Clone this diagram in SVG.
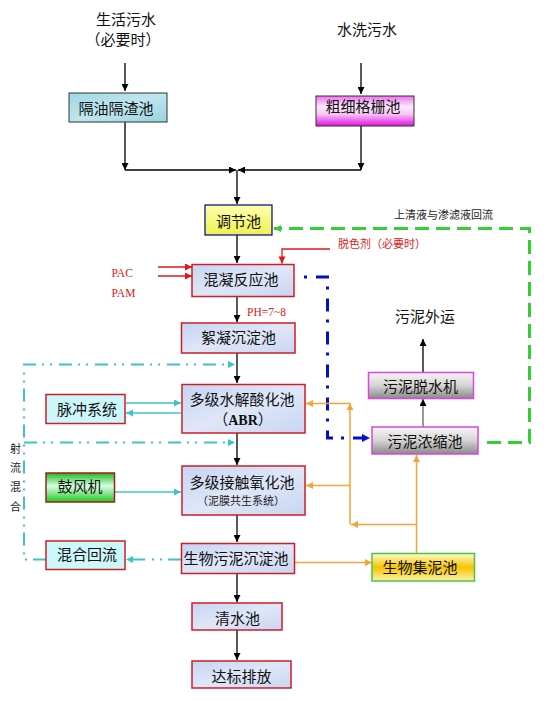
<svg xmlns="http://www.w3.org/2000/svg" width="549" height="701" viewBox="0 0 549 701">
<defs>
<style>
.t{font-family:"Noto Sans CJK SC","Noto Sans",sans-serif;font-size:15px;fill:#111;text-anchor:middle}
.s{font-family:"Noto Sans CJK SC","Noto Sans",sans-serif;font-size:11px;fill:#222}
.r{font-family:"Liberation Serif","Noto Sans CJK SC",serif;font-size:11.5px;fill:#e01818}
.rb{stroke:#d01c24;stroke-width:1.5}
.blk{stroke:#000;stroke-width:1.3;fill:none}
.red{stroke:#e01818;stroke-width:1.3;fill:none}
.cy{stroke:#3cc4c4;stroke-width:1.4;fill:none}
.cyd{stroke:#3cc4c4;stroke-width:2;fill:none;stroke-dasharray:13 6 2 6 2 7}
.or{stroke:#f5a43a;stroke-width:1.5;fill:none}
.bl{stroke:#0010d0;stroke-width:3;fill:none;stroke-dasharray:3 9 13 8}
.gr{stroke:#33d033;stroke-width:3;fill:none;stroke-dasharray:14 7}
</style>
<marker id="aK" viewBox="0 0 10 10" refX="10" refY="5" markerUnits="userSpaceOnUse" markerWidth="8" markerHeight="7" orient="auto"><path d="M0,0L10,5L0,10z" fill="#000"/></marker>
<marker id="aR" viewBox="0 0 10 10" refX="10" refY="5" markerUnits="userSpaceOnUse" markerWidth="8" markerHeight="7" orient="auto"><path d="M0,0L10,5L0,10z" fill="#e01818"/></marker>
<marker id="aC" viewBox="0 0 10 10" refX="10" refY="5" markerUnits="userSpaceOnUse" markerWidth="8" markerHeight="7" orient="auto"><path d="M0,0L10,5L0,10z" fill="#3cc4c4"/></marker>
<marker id="aO" viewBox="0 0 10 10" refX="10" refY="5" markerUnits="userSpaceOnUse" markerWidth="8" markerHeight="7" orient="auto"><path d="M0,0L10,5L0,10z" fill="#f5a43a"/></marker>
<marker id="aB" viewBox="0 0 10 10" refX="10" refY="5" markerUnits="userSpaceOnUse" markerWidth="8" markerHeight="8" orient="auto"><path d="M0,0L10,5L0,10z" fill="#0010d0"/></marker>
<marker id="aG" viewBox="0 0 10 10" refX="10" refY="5" markerUnits="userSpaceOnUse" markerWidth="8" markerHeight="7" orient="auto"><path d="M0,0L10,5L0,10z" fill="#33d033"/></marker>
<linearGradient id="gBlue" x1="0" y1="0" x2="1" y2="1"><stop offset="0" stop-color="#c6d4f2"/><stop offset="0.5" stop-color="#dfe6f8"/><stop offset="1" stop-color="#c8d6f3"/></linearGradient>
<linearGradient id="gTeal" x1="0" y1="0" x2="1" y2="1"><stop offset="0" stop-color="#9fd7e2"/><stop offset="0.5" stop-color="#bfe6ee"/><stop offset="1" stop-color="#98d2df"/></linearGradient>
<linearGradient id="gMag" x1="0" y1="0" x2="0" y2="1"><stop offset="0" stop-color="#f070f0"/><stop offset="0.35" stop-color="#fde8fd"/><stop offset="0.6" stop-color="#f8c8f8"/><stop offset="1" stop-color="#e010e0"/></linearGradient>
<linearGradient id="gYel" x1="0" y1="0" x2="0" y2="1"><stop offset="0" stop-color="#ffffb0"/><stop offset="1" stop-color="#eef050"/></linearGradient>
<linearGradient id="gGrn" x1="0" y1="0" x2="0" y2="1"><stop offset="0" stop-color="#20b820"/><stop offset="0.45" stop-color="#d8ffe4"/><stop offset="1" stop-color="#22c822"/></linearGradient>
<linearGradient id="gGry" x1="0" y1="0" x2="0" y2="1"><stop offset="0" stop-color="#f6f6f6"/><stop offset="0.5" stop-color="#d4d4d4"/><stop offset="1" stop-color="#8a8a8a"/></linearGradient>
<linearGradient id="gGold" x1="0" y1="0" x2="0" y2="1"><stop offset="0" stop-color="#fffbd0"/><stop offset="0.5" stop-color="#f6c400"/><stop offset="1" stop-color="#fff2a8"/></linearGradient>
</defs>
<rect width="549" height="701" fill="#fff"/>

<g id="connectors">
<line class="blk" x1="125" y1="63" x2="125" y2="91" marker-end="url(#aK)"/>
<line class="blk" x1="361" y1="63" x2="361" y2="94" marker-end="url(#aK)"/>
<line class="blk" x1="125" y1="122" x2="125" y2="170" marker-end="url(#aK)"/>
<line class="blk" x1="361" y1="126" x2="361" y2="170" marker-end="url(#aK)"/>
<line class="blk" x1="125" y1="170" x2="236" y2="170" marker-end="url(#aK)"/>
<line class="blk" x1="361" y1="170" x2="238" y2="170" marker-end="url(#aK)"/>
<line class="blk" x1="237" y1="170" x2="237" y2="204" marker-end="url(#aK)"/>
<line class="blk" x1="237" y1="235" x2="237" y2="263" marker-end="url(#aK)"/>
<line class="blk" x1="237" y1="297" x2="237" y2="322" marker-end="url(#aK)"/>
<line class="blk" x1="237" y1="353" x2="237" y2="383" marker-end="url(#aK)"/>
<line class="blk" x1="237" y1="433" x2="237" y2="465" marker-end="url(#aK)"/>
<line class="blk" x1="237" y1="515" x2="237" y2="542" marker-end="url(#aK)"/>
<line class="blk" x1="237" y1="574" x2="237" y2="602" marker-end="url(#aK)"/>
<line class="blk" x1="237" y1="630" x2="237" y2="660" marker-end="url(#aK)"/>
<line class="blk" x1="423" y1="372" x2="423" y2="339" marker-end="url(#aK)"/>
<line x1="423" y1="427" x2="423" y2="399" stroke="#707070" stroke-width="1.4" marker-end="url(#aK)"/>
<line class="red" x1="158" y1="267" x2="192" y2="267" marker-end="url(#aR)"/>
<line class="red" x1="158" y1="276" x2="192" y2="276" marker-end="url(#aR)"/>
<path class="red" d="M330 249H282V263.5" marker-end="url(#aR)"/>
<path class="bl" d="M304 277H327.5V438H370" marker-end="url(#aB)"/>
<path class="gr" d="M487 442.5H529.5V228.5H274" marker-end="url(#aG)"/>
<path class="cyd" d="M46 559.5H24V364.5H235" marker-end="url(#aC)"/>
<path class="cyd" d="M24 442.5H235" marker-end="url(#aC)"/>
<path class="cyd" d="M181 559.5H126" marker-end="url(#aC)"/>
<line class="cy" x1="126" y1="403" x2="181" y2="403" marker-end="url(#aC)"/>
<line class="cy" x1="181" y1="413" x2="126" y2="413" marker-end="url(#aC)"/>
<line class="cy" x1="115" y1="492" x2="181" y2="492" marker-end="url(#aC)"/>
<path class="or" d="M350 524.5V403.5H306" marker-end="url(#aO)"/>
<path d="M346.5 410L350 403.5L353.5 410z" fill="#f5a43a"/>
<line class="or" x1="350" y1="485.5" x2="306" y2="485.5" marker-end="url(#aO)"/>
<line class="or" x1="416.5" y1="553.5" x2="416.5" y2="455" marker-end="url(#aO)"/>
<line class="or" x1="416.5" y1="524.5" x2="351" y2="524.5" marker-end="url(#aO)"/>
<line class="or" x1="295" y1="562.5" x2="372" y2="562.5" marker-end="url(#aO)"/>
</g>

<g id="src-shenghuo"><text class="t" x="126" y="24.5">生活污水</text><text class="t" x="123" y="45">（必要时）</text></g>
<g id="src-shuixi"><text class="t" x="367" y="35">水洗污水</text></g>
<g id="out-wuni"><text class="t" x="425" y="322">污泥外运</text></g>
<g id="labels">
<text class="s" x="394" y="218.5">上清液与渗滤液回流</text>
<text class="s" x="338" y="247.5" fill="#e01818" style="fill:#e01818">脱色剂（必要时）</text>
<text class="r" x="111.5" y="277">PAC</text>
<text class="r" x="111.5" y="296.5">PAM</text>
<text class="r" x="247" y="316">PH=7~8</text>
<text class="s" x="15.5" y="453" text-anchor="middle">射</text>
<text class="s" x="15.5" y="472" text-anchor="middle">流</text>
<text class="s" x="15.5" y="491" text-anchor="middle">混</text>
<text class="s" x="15.5" y="511" text-anchor="middle">合</text>
</g>

<g id="n-geyou"><rect x="69" y="93" width="98" height="29" fill="url(#gTeal)" stroke="#333" stroke-width="1"/><text class="t" x="116" y="113.5">隔油隔渣池</text></g>
<g id="n-cuxi"><rect x="316" y="96" width="98" height="30" fill="url(#gMag)" stroke="#333" stroke-width="1"/><text class="t" x="363" y="112">粗细格栅池</text></g>
<g id="n-tiaojie"><rect x="205" y="205" width="67" height="30" fill="url(#gYel)" stroke="#000080" stroke-width="1.2"/><text class="t" x="238.5" y="226.5">调节池</text></g>
<g id="n-hunning"><rect class="rb" x="192" y="264.5" width="102" height="32" fill="url(#gBlue)"/><text class="t" x="241" y="285">混凝反应池</text></g>
<g id="n-xuning"><rect class="rb" x="181.5" y="323" width="113.5" height="30" fill="url(#gBlue)"/><text class="t" x="238.5" y="343">絮凝沉淀池</text></g>
<g id="n-abr"><rect class="rb" x="182" y="384.5" width="123" height="48.5" fill="url(#gBlue)"/><text class="t" x="242" y="405">多级水解酸化池</text><text class="t" x="243" y="425">（<tspan font-family="Liberation Serif, serif" font-weight="bold" font-size="14">ABR</tspan>）</text></g>
<g id="n-maichong"><rect class="rb" x="46" y="394.5" width="79" height="29" fill="#cdf8fb"/><text class="t" x="87" y="415">脉冲系统</text></g>
<g id="n-jiechu"><rect class="rb" x="182" y="466" width="123" height="49" fill="url(#gBlue)"/><text class="t" x="242" y="487.5">多级接触氧化池</text><text class="s" x="241" y="505" text-anchor="middle">（泥膜共生系统）</text></g>
<g id="n-gufeng"><rect x="46" y="473" width="68.5" height="29" fill="url(#gGrn)" stroke="#9a2020" stroke-width="1.5"/><text class="t" x="80" y="492">鼓风机</text></g>
<g id="n-shengwu"><rect class="rb" x="181.5" y="543.5" width="113" height="30" fill="url(#gBlue)"/><text class="t" x="236" y="564">生物污泥沉淀池</text></g>
<g id="n-hunhe"><rect class="rb" x="46" y="541" width="79" height="28.5" fill="#cdf8fb"/><text class="t" x="87" y="559.5">混合回流</text></g>
<g id="n-jini"><rect x="372" y="553.5" width="102.5" height="27.5" fill="url(#gGold)" stroke="#44c844" stroke-width="1.5"/><text class="t" x="420" y="573">生物集泥池</text></g>
<g id="n-qingshui"><rect class="rb" x="192" y="603" width="90" height="27" fill="url(#gBlue)"/><text class="t" x="237.5" y="623.5">清水池</text></g>
<g id="n-dabiao"><rect class="rb" x="192" y="661" width="99" height="27" fill="url(#gBlue)"/><text class="t" x="241.5" y="682">达标排放</text></g>
<g id="n-nongsuo"><rect x="372" y="427" width="106" height="27" fill="url(#gGry)" stroke="#dd44dd" stroke-width="1.5"/><text class="t" x="425" y="447">污泥浓缩池</text></g>
<g id="n-tuoshui"><rect x="368.5" y="372.5" width="105" height="26" fill="url(#gGry)" stroke="#dd44dd" stroke-width="1.5"/><text class="t" x="420.5" y="392">污泥脱水机</text></g>
</svg>
